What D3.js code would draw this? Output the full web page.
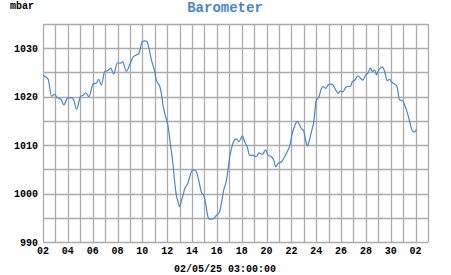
<!DOCTYPE html>
<html>
<head>
<meta charset="utf-8">
<script src="https://cdn.jsdelivr.net/npm/d3@7.9.0/dist/d3.min.js"></script>
<style>
  body { margin: 0; background: #fff; }
  text { font-family: "Liberation Mono", "DejaVu Sans Mono", monospace; font-weight: bold; }
</style>
</head>
<body>
<div id="vis"></div>
<script>
// Days since 02/04 00:00, and pressure readings (mbar)
const days = [
  0, 0.22, 0.43, 0.68, 0.94, 1.13, 1.43, 1.69, 1.96, 2.29, 2.47, 2.71, 3.01, 3.22, 3.44, 3.70,
  4.03, 4.30, 4.48, 4.70, 4.97, 5.23, 5.45, 5.69, 5.99, 6.23, 6.42, 6.71, 7.04, 7.30, 7.52, 7.73,
  8.00, 8.21, 8.37, 8.53, 8.73, 8.99, 9.13, 9.40, 9.53, 9.66, 9.88, 10.06, 10.20, 10.34, 10.47, 10.60,
  10.74, 10.87, 10.99, 11.13, 11.29, 11.41, 11.67, 11.81, 11.95, 12.09, 12.25, 12.42, 12.56, 12.75,
  12.94, 13.10, 13.29, 13.42, 13.69, 13.96, 14.23, 14.36, 14.55, 14.77, 14.90, 15.03, 15.17, 15.30,
  15.57, 15.78, 16.05, 16.24, 16.45, 16.64, 16.91, 17.18, 17.39, 17.66, 17.93, 18.12, 18.39, 18.58,
  18.74, 18.92, 19.19, 19.46, 19.65, 19.86, 20.08, 20.27, 20.45, 20.61, 20.81, 20.99, 21.15, 21.29,
  21.42, 21.61, 21.80, 22.01, 22.22, 22.42, 22.54, 22.76, 22.95, 23.14, 23.35, 23.57, 23.75, 23.95,
  24.15, 24.37, 24.55, 24.75, 24.91, 25.10, 25.36, 25.56, 25.76, 25.98, 26.17, 26.36, 26.52, 26.71,
  26.85, 26.97, 27.17, 27.33, 27.51, 27.70, 27.91, 28.05, 28.31, 28.50, 28.72, 28.94, 29.12, 29.31,
  29.53, 29.75, 29.93, 30.06
];
const mbar = [
  1024.4, 1024.1, 1023.5, 1020.1, 1020.5, 1019.8, 1019.5, 1018.3, 1019.7, 1019.8, 1019.3, 1017.4, 1020.0, 1020.3, 1020.8, 1020.0,
  1022.6, 1022.8, 1023.6, 1022.4, 1025.2, 1025.4, 1025.9, 1024.7, 1027.0, 1026.9, 1027.2, 1025.2, 1027.0, 1028.3, 1028.6, 1029.0,
  1031.4, 1031.5, 1031.4, 1030.0, 1027.6, 1025.2, 1023.4, 1022.1, 1020.7, 1018.3, 1015.8, 1014.1, 1011.4, 1008.6, 1006.0, 1002.4,
  999.6, 998.3, 997.3, 998.4, 999.8, 1001.0, 1002.2, 1003.4, 1004.5, 1004.9, 1004.8, 1004.0, 1002.5, 1000.3,
  999.6, 997.9, 995.1, 994.7, 994.8, 995.5, 996.3, 998.0, 1000.7, 1002.7, 1005.0, 1007.5, 1009.2, 1010.5,
  1011.3, 1010.7, 1011.9, 1010.7, 1009.6, 1007.9, 1007.9, 1007.6, 1008.4, 1008.1, 1009.0, 1007.9, 1007.6, 1006.9,
  1005.5, 1006.2, 1006.5, 1007.6, 1008.6, 1009.8, 1012.5, 1014.0, 1014.9, 1014.4, 1013.4, 1012.9, 1011.0, 1009.8,
  1010.7, 1012.7, 1014.8, 1019.3, 1020.0, 1021.7, 1022.1, 1021.7, 1022.4, 1022.6, 1022.4, 1021.4, 1020.7, 1021.2,
  1021.0, 1021.9, 1022.1, 1022.1, 1023.1, 1023.4, 1024.3, 1023.8, 1023.4, 1024.5, 1024.9, 1025.9, 1025.2, 1025.5,
  1024.5, 1025.2, 1025.9, 1026.1, 1025.2, 1023.3, 1023.6, 1023.1, 1022.6, 1022.1, 1019.3, 1019.2, 1018.3, 1016.9,
  1014.8, 1012.9, 1012.7, 1013.2
];

const xTickLabels = ["02", "04", "06", "08", "10", "12", "14", "16", "18", "20", "22", "24", "26", "28", "30", "02"];
const yTicks = [990, 1000, 1010, 1020, 1030];
const title = "Barometer";
const unitLabel = "mbar";
const dateLabel = "02/05/25 03:00:00";

const width = 451;
const height = 275;
const margin = { top: 24, right: 23, bottom: 33, left: 43 };

const xScale = d3
  .scaleLinear()
  .domain([0, 31])
  .range([margin.left, width - margin.right]);
const yScale = d3
  .scaleLinear()
  .domain([990, 1035])
  .range([height - margin.bottom, margin.top]);

const svg = d3
  .select("#vis")
  .append("svg")
  .attr("width", width)
  .attr("height", height);

// Grid
svg
  .append("g")
  .selectAll("line")
  .data(d3.range(990, 1036, 5))
  .enter()
  .append("line")
  .attr("x1", xScale(0))
  .attr("x2", xScale(31))
  .attr("y1", (d) => Math.round(yScale(d)) + 0.5)
  .attr("y2", (d) => Math.round(yScale(d)) + 0.5)
  .attr("stroke", "#ababab")
  .attr("stroke-width", 1.3);

svg
  .append("g")
  .selectAll("line")
  .data(d3.range(0, 32))
  .enter()
  .append("line")
  .attr("x1", (d) => Math.round(xScale(d)) + 0.5)
  .attr("x2", (d) => Math.round(xScale(d)) + 0.5)
  .attr("y1", yScale(990))
  .attr("y2", yScale(1035))
  .attr("stroke", "#ababab")
  .attr("stroke-width", 1.3);

// Axis labels
svg
  .append("g")
  .selectAll("text")
  .data(yTicks)
  .enter()
  .append("text")
  .attr("x", xScale(0) - 5)
  .attr("y", (d) => yScale(d) + 3.5)
  .attr("text-anchor", "end")
  .attr("font-size", 10)
  .attr("fill", "#000")
  .text((d) => d);

svg
  .append("g")
  .selectAll("text")
  .data(xTickLabels)
  .enter()
  .append("text")
  .attr("x", (d, i) => xScale(i * 2))
  .attr("y", 254)
  .attr("text-anchor", "middle")
  .attr("font-size", 10)
  .attr("fill", "#000")
  .text((d) => d);

svg
  .append("text")
  .attr("x", 10)
  .attr("y", 9)
  .attr("font-size", 10)
  .attr("fill", "#000")
  .text(unitLabel);

svg
  .append("text")
  .attr("x", 225)
  .attr("y", 12)
  .attr("text-anchor", "middle")
  .attr("font-size", 14)
  .attr("fill", "#4a86c4")
  .text(title);

svg
  .append("text")
  .attr("x", 225)
  .attr("y", 272)
  .attr("text-anchor", "middle")
  .attr("font-size", 10)
  .attr("fill", "#000")
  .text(dateLabel);

// Pressure line
const line = d3
  .line()
  .x((d, i) => xScale(days[i]))
  .y((d) => yScale(d))
  .curve(d3.curveMonotoneX);

svg
  .append("path")
  .datum(mbar)
  .attr("fill", "none")
  .attr("stroke", "#4a86c4")
  .attr("stroke-width", 1.2)
  .attr("d", line);
</script>
</body>
</html>
